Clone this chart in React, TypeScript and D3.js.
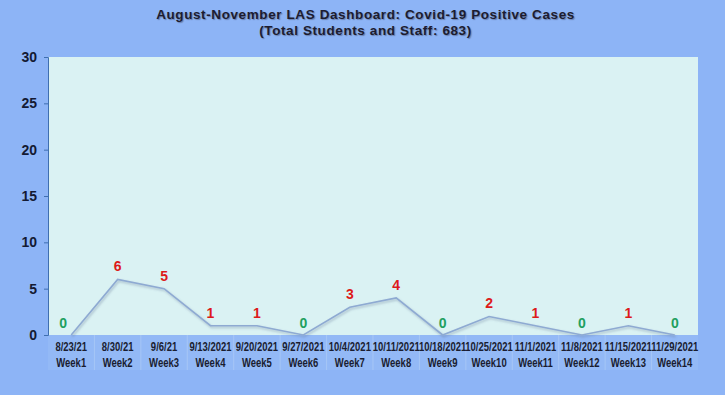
import { useEffect, useRef } from "react";
import * as d3 from "d3";

const dates = ["8/23/21", "8/30/21", "9/6/21", "9/13/2021", "9/20/2021", "9/27/2021", "10/4/2021", "10/11/2021", "10/18/2021", "10/25/2021", "11/1/2021", "11/8/2021", "11/15/2021", "11/29/2021"];
const weeks = ["Week1", "Week2", "Week3", "Week4", "Week5", "Week6", "Week7", "Week8", "Week9", "Week10", "Week11", "Week12", "Week13", "Week14"];
const cases = [0, 6, 5, 1, 1, 0, 3, 4, 0, 2, 1, 0, 1, 0];
const yTicks = [0, 5, 10, 15, 20, 25, 30];

const App = () => {
    const svgRef = useRef<SVGSVGElement | null>(null);

    useEffect(() => {
        const W = 725, H = 395;
        const margin = {top: 57, right: 27, bottom: 60, left: 48};
        const width = W - margin.left - margin.right;
        const height = 278;

        const root = d3.select(svgRef.current);
        root.selectAll("*").remove();

        const defs = root.append("defs");
        const f = defs.append("filter").attr("id", "shadow").attr("x", "-10%").attr("y", "-10%").attr("width", "120%").attr("height", "140%");
        f.append("feDropShadow").attr("dx", 1).attr("dy", 1.5).attr("stdDeviation", 1).attr("flood-color", "#5a6f90").attr("flood-opacity", 0.45);

        root.append("rect").attr("width", W).attr("height", H).attr("fill", "#8db4f6");

        // title
        const title = root.append("text")
            .attr("x", W / 2 + 1)
            .attr("text-anchor", "middle")
            .attr("font-family", "Arial, sans-serif")
            .attr("font-weight", "bold")
            .attr("font-size", 13.5)
            .attr("fill", "#1c1c30")
            .attr("letter-spacing", 0.6)
            .style("text-shadow", "1px 1px 1px rgba(60,60,80,0.45)");
        title.append("tspan").attr("x", W / 2 + 3).attr("y", 19).text("August-November LAS Dashboard: Covid-19 Positive Cases");
        title.append("tspan").attr("x", W / 2 + 3).attr("y", 35).text("(Total Students and Staff: 683)");

        const svg = root.append("g").attr("transform", `translate(${margin.left},${margin.top})`);

        const x = d3.scaleBand().domain(weeks).range([0, width]);
        const y = d3.scaleLinear().domain([0, 30]).range([height, 0]);

        svg.append("rect").attr("width", width).attr("height", height).attr("fill", "#daf2f3");

        // category rows
        const rows = svg.append("g").attr("transform", `translate(0,${height})`);
        rows.append("rect").attr("width", width).attr("height", 35).attr("fill", "#93b9f6");
        rows.selectAll(".sep")
            .data(weeks.slice(1))
            .enter()
            .append("line")
            .attr("x1", (d) => x(d) as number)
            .attr("x2", (d) => x(d) as number)
            .attr("y1", 0)
            .attr("y2", 35)
            .attr("stroke", "#a6c6f6")
            .attr("stroke-width", 1);
        const rowLabel = (data: string[], yPos: number) => {
            rows.selectAll(null)
                .data(data)
                .enter()
                .append("text")
                .attr("transform", (d, i) => `translate(${(x(weeks[i]) as number) + x.bandwidth() / 2},${yPos}) scale(0.76,1)`)
                .attr("text-anchor", "middle")
                .attr("font-family", "Arial, sans-serif")
                .attr("font-weight", "bold")
                .attr("font-size", 12.5)
                .attr("fill", "#1a1d30")
                .text((d) => d);
        };
        rowLabel(dates, 15.5);
        rowLabel(weeks, 31.5);

        // y axis
        const yAxis = svg.append("g").call(d3.axisLeft(y).tickValues(yTicks).tickSize(4).tickPadding(7));
        yAxis.select(".domain").attr("stroke", "#3f6fb0");
        yAxis.selectAll(".tick line").attr("stroke", "#3f6fb0");
        yAxis.selectAll("text")
            .attr("font-family", "Arial, sans-serif")
            .attr("font-weight", "bold")
            .attr("font-size", 14)
            .attr("fill", "#141a33");

        // line
        const line = d3.line<number>()
            .x((d, i) => (x(weeks[i]) as number) + x.bandwidth() / 2)
            .y((d) => y(d));
        svg.append("path")
            .datum(cases)
            .attr("d", line)
            .attr("fill", "none")
            .attr("stroke", "#8eaad2")
            .attr("stroke-width", 1.6)
            .attr("filter", "url(#shadow)");

        // value labels
        svg.selectAll(".val")
            .data(cases)
            .enter()
            .append("text")
            .attr("x", (d, i) => (x(weeks[i]) as number) + x.bandwidth() / 2 - (i === 0 ? 8 : 0))
            .attr("y", (d) => y(d) - (d === 0 ? 7 : 8))
            .attr("text-anchor", "middle")
            .attr("font-family", "Arial, sans-serif")
            .attr("font-weight", "bold")
            .attr("font-size", 14)
            .attr("fill", (d) => (d === 0 ? "#1fa060" : "#dd1a1a"))
            .text((d) => d);
    }, []);

    return <svg ref={svgRef} width={725} height={395} style={{position: "absolute", left: 0, top: 0, display: "block"}}></svg>;
};

export default App;
